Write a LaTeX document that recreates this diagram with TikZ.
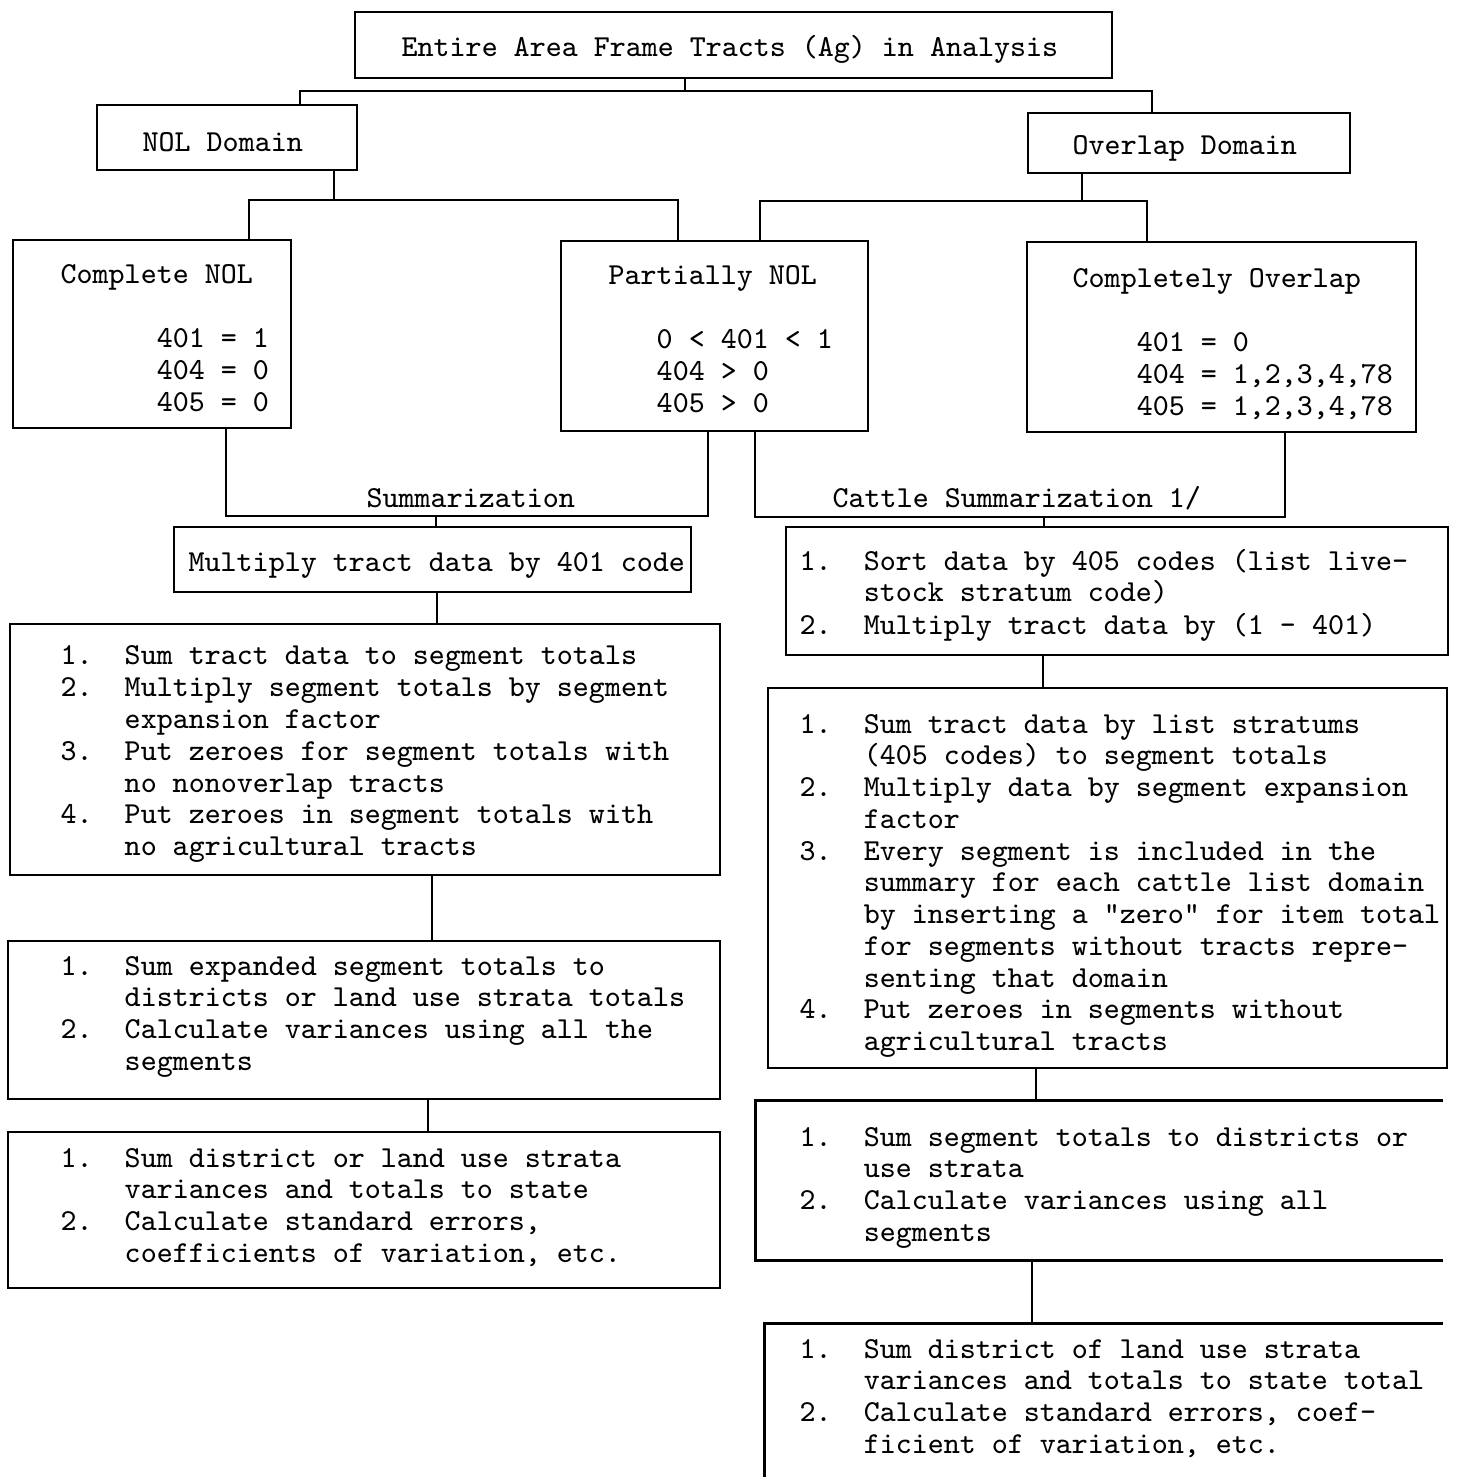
\documentclass[tikz,border=0pt]{standalone}
\usepackage{fontspec}
\usetikzlibrary{fit}
\newcommand\lns[1]{\begin{tabular}[t]{@{}l@{}}#1\end{tabular}}
\newcommand\nb[1]{\makebox[0.64cm][l]{#1}}
\begin{document}
\begin{tikzpicture}[x=0.01cm,y=-0.01cm,
  box/.style={draw,line width=0.8pt,inner sep=0pt},
  openbox/.style={inner sep=0pt},
  txt/.style={inner sep=0pt,anchor=base west,font=\ttfamily\fontsize{8.671}{9.034}\selectfont},
  conn/.style={line width=0.8pt}]
\useasboundingbox (0,0) rectangle (1457,1477);
\foreach \v in {300,1152,249,678,760,1147,226,708,755,1285,437,432,428,1043,1036,1032}
  \coordinate (x\v) at (\v,0);

% ---------- boxes ----------
\node[box,fit={(355,12) (1112,78)}] (top) {};
\node[box,fit={(97,105) (357,170)}] (nol) {};
\node[box,fit={(1028,113) (1350,173)}] (ovl) {};
\node[box,fit={(13,240) (291,428)}] (cnol) {};
\node[box,fit={(561,241) (868,431)}] (pnol) {};
\node[box,fit={(1027,242) (1416,432)}] (cov) {};
\node[box,fit={(174,527) (691,592)}] (mult) {};
\node[box,fit={(10,624) (720,875)}] (la) {};
\node[box,fit={(8,941) (720,1099)}] (lb) {};
\node[box,fit={(8,1132) (720,1288)}] (lc) {};
\node[box,fit={(786,527) (1448,655)}] (ra) {};
\node[box,fit={(768,688) (1447,1068)}] (rb) {};
\node[openbox,fit={(756,1101) (1442,1260)}] (rc) {};
\node[openbox,fit={(765,1324) (1442,1477)}] (rd) {};
\draw[conn] (rc.north east) -- (rc.north west) -- (rc.south west) -- (rc.south east);
\draw[conn] (rd.north east) -- (rd.north west) -- (rd.south west);

% ---------- texts ----------
\node[txt] (t0) at (401,57) {Entire Area Frame Tracts (Ag) in Analysis};
\node[txt] (t1) at (142,152) {NOL Domain};
\node[txt] (t2) at (1072,155) {Overlap Domain};
\node[txt] (t3) at (60,284) {\lns{Complete NOL\\ \\
  \hspace*{0.96cm}401 = 1\\ \hspace*{0.96cm}404 = 0\\ \hspace*{0.96cm}405 = 0}};
\node[txt] (t4) at (608,285) {\lns{Partially NOL\\ \\
  \hspace*{0.48cm}0 < 401 < 1\\ \hspace*{0.48cm}404 > 0\\ \hspace*{0.48cm}405 > 0}};
\node[txt] (t5) at (1072,288) {\lns{Completely Overlap\\ \\
  \hspace*{0.64cm}401 = 0\\ \hspace*{0.64cm}404 = 1,2,3,4,78\\ \hspace*{0.64cm}405 = 1,2,3,4,78}};
\node[txt] (t6) at (188,572) {Multiply tract data by 401 code};
\node[txt] (t7) at (60,665) {\lns{%
  \nb{1.}Sum tract data to segment totals\\
  \nb{2.}Multiply segment totals by segment\\
  \nb{}expansion factor\\
  \nb{3.}Put zeroes for segment totals with\\
  \nb{}no nonoverlap tracts\\
  \nb{4.}Put zeroes in segment totals with\\
  \nb{}no agricultural tracts}};
\node[txt] (t8) at (60,975) {\lns{%
  \nb{1.}Sum expanded segment totals to\\
  \nb{}districts or land use strata totals\\
  \nb{2.}Calculate variances using all the\\
  \nb{}segments}};
\node[txt] (t9) at (60,1167) {\lns{%
  \nb{1.}Sum district or land use strata\\
  \nb{}variances and totals to state\\
  \nb{2.}Calculate standard errors,\\
  \nb{}coefficients of variation, etc.}};
\node[txt] (t10) at (799,571) {\lns{%
  \nb{1.}Sort data by 405 codes (list live-\\[-0.5pt]
  \nb{}stock stratum code)\\[0.35pt]
  \nb{2.}Multiply tract data by (1 - 401)}};
\node[txt] (t11) at (799,733) {\lns{%
  \nb{1.}Sum tract data by list stratums\\
  \nb{}(405 codes) to segment totals\\
  \nb{2.}Multiply data by segment expansion\\
  \nb{}factor\\
  \nb{3.}Every segment is included in the\\
  \nb{}summary for each cattle list domain\\
  \nb{}by inserting a "zero" for item total\\
  \nb{}for segments without tracts repre-\\
  \nb{}senting that domain\\
  \nb{4.}Put zeroes in segments without\\
  \nb{}agricultural tracts}};
\node[txt] (t12) at (799,1146) {\lns{%
  \nb{1.}Sum segment totals to districts or\\
  \nb{}use strata\\
  \nb{2.}Calculate variances using all\\
  \nb{}segments}};
\node[txt] (t13) at (799,1358) {\lns{%
  \nb{1.}Sum district of land use strata\\
  \nb{}variances and totals to state total\\
  \nb{2.}Calculate standard errors, coef-\\
  \nb{}ficient of variation, etc.}};
\node[txt] (lsum) at (366,508) {Summarization};
\node[txt] (lcat) at (832,508) {Cattle Summarization 1/};

% ---------- connectors ----------
\coordinate (j1) at (685,91);
\draw[conn] (top.south -| j1) -- (j1) -| (nol.north -| x300);
\draw[conn] (j1) -| (ovl.north -| x1152);
\coordinate (j2) at (334,200);
\draw[conn] (nol.south -| j2) -- (j2);
\draw[conn] (j2) -| (cnol.north -| x249);
\draw[conn] (j2) -| (pnol.north -| x678);
\coordinate (j3) at (1082,201);
\draw[conn] (ovl.south -| j3) -- (j3);
\draw[conn] (j3) -| (pnol.north -| x760);
\draw[conn] (j3) -| (cov.north -| x1147);
\coordinate (j4) at (436,516);
\draw[conn] (cnol.south -| x226) |- (j4) -| (pnol.south -| x708);
\draw[conn] (j4) -- (mult.north -| j4);
\coordinate (j5) at (1044,517);
\draw[conn] (pnol.south -| x755) |- (j5) -| (cov.south -| x1285);
\draw[conn] (j5) -- (ra.north -| j5);
\draw[conn] (mult.south -| x437) -- (la.north -| x437);
\draw[conn] (la.south -| x432) -- (lb.north -| x432);
\draw[conn] (lb.south -| x428) -- (lc.north -| x428);
\draw[conn] (ra.south -| x1043) -- (rb.north -| x1043);
\draw[conn] (rb.south -| x1036) -- (rc.north -| x1036);
\draw[conn] (rc.south -| x1032) -- (rd.north -| x1032);
\end{tikzpicture}
\end{document}
